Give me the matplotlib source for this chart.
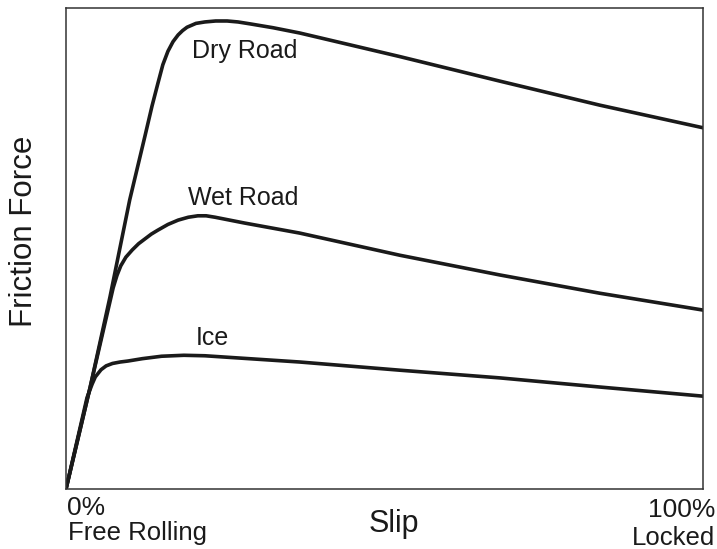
import matplotlib
matplotlib.use('Agg')
import matplotlib.pyplot as plt

plt.rcParams['font.family'] = ['Liberation Sans', 'DejaVu Sans']

# curvas (slip em %, força em unidades arbitrárias 0-100)
dry_x = [0, 3.8, 6.9, 10.0, 12.4, 13.5, 14.4, 15.2, 16.0, 16.8, 17.6, 18.3, 19.0, 20.4, 21.8, 23.5, 25.3, 27.0, 28.9, 32.5, 36.7, 52.4, 68.1, 83.8, 100]
dry_y = [0, 21.2, 39.9, 60.1, 73.4, 79.6, 84.2, 88.2, 91.0, 93.0, 94.4, 95.3, 96.0, 96.8, 97.1, 97.3, 97.3, 97.1, 96.7, 95.9, 94.8, 89.9, 84.8, 79.8, 75.1]

wet_x = [0, 3.8, 7.4, 8.0, 8.6, 9.4, 10.4, 11.4, 12.4, 13.4, 14.4, 16.0, 17.6, 19.2, 20.7, 22.0, 23.4, 28.0, 36.7, 52.4, 68.1, 83.8, 100]
wet_y = [0, 21.2, 41.8, 44.4, 46.4, 48.2, 49.7, 51.0, 52.0, 53.0, 53.8, 55.0, 55.9, 56.5, 56.8, 56.8, 56.5, 55.3, 53.2, 48.6, 44.5, 40.7, 37.2]

ice_x = [0, 3.3, 4.1, 4.6, 5.5, 6.3, 7.3, 8.5, 9.7, 12.0, 15.0, 18.5, 21.8, 36.7, 52.4, 68.1, 83.8, 100]
ice_y = [0, 19.0, 21.8, 23.3, 24.8, 25.6, 26.1, 26.4, 26.6, 27.1, 27.6, 27.8, 27.7, 26.4, 24.7, 23.1, 21.2, 19.3]

rotulos = ['Dry Road', 'Wet Road', 'Ice']
rot_x = [19.8, 19.2, 20.3]
rot_y = [89.6, 59.0, 29.9]

W, H = 717, 549
fig = plt.figure(figsize=(W / 100, H / 100), dpi=100)
fig.patch.set_facecolor('white')
ax = fig.add_axes([66 / W, 1 - 489 / H, (703 - 66) / W, (489 - 8) / H])

cor = '#1a1a1a'
for xs, ys in [(dry_x, dry_y), (wet_x, wet_y), (ice_x, ice_y)]:
    ax.plot(xs, ys, color=cor, lw=2.6, solid_capstyle='round', solid_joinstyle='round')

for txt, tx, ty in zip(rotulos, rot_x, rot_y):
    ax.text(tx, ty, txt, fontsize=18, color=cor, ha='left', va='baseline')

ax.set_xlim(0, 100)
ax.set_ylim(0, 100)
ax.set_xticks([])
ax.set_yticks([])
for s in ax.spines.values():
    s.set_color('#333333')
    s.set_linewidth(1.1)

# textos dos eixos, em coordenadas de pixel da figura
def ftext(px, py, s, **kw):
    fig.text(px / W, 1 - py / H, s, color=cor, **kw)

ftext(67, 515, '0%', fontsize=19, ha='left', va='baseline')
ftext(68, 540, 'Free Rolling', fontsize=18.5, ha='left', va='baseline')
ftext(369, 532, 'Slip', fontsize=22, ha='left', va='baseline')
ftext(715, 517, '100%', fontsize=19, ha='right', va='baseline')
ftext(715, 545, 'Locked', fontsize=18.5, ha='right', va='baseline')
ftext(24, 231, 'Friction Force', fontsize=22.5, rotation=90, ha='center', va='center')

fig.savefig('out.png', dpi=100, facecolor='white')
